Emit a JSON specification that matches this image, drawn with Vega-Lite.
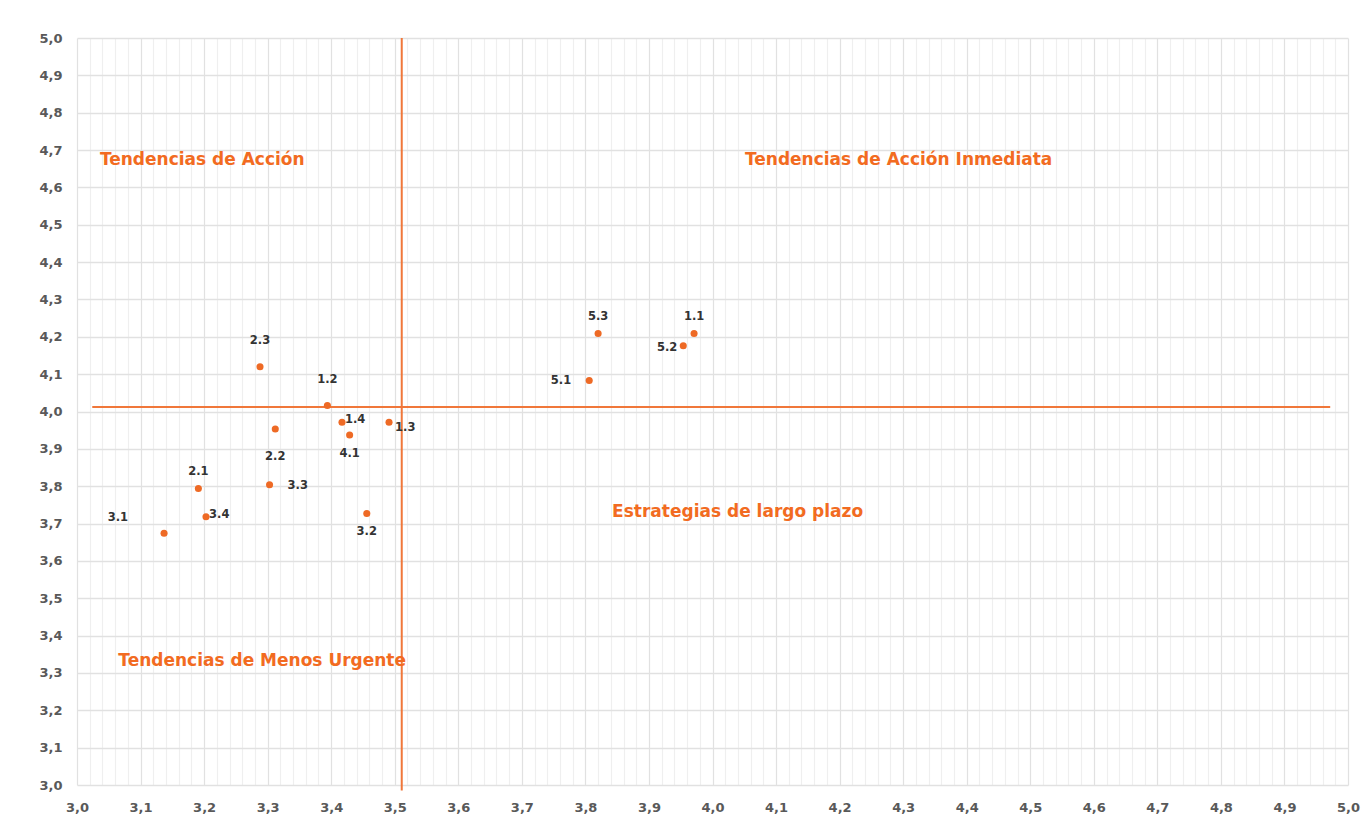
{
  "$schema": "https://vega.github.io/schema/vega-lite/v6.json",
  "width": 1271,
  "height": 747,
  "autosize": {"type": "none"},
  "padding": {"left": 77, "top": 38, "right": 23, "bottom": 49},
  "background": "white",
  "config": {
    "view": {"stroke": null},
    "font": "DejaVu Sans"
  },
  "datasets": {
    "points": [
      {"label": "1.1", "x": 3.971, "y": 4.209},
      {"label": "1.2", "x": 3.394, "y": 4.016},
      {"label": "1.3", "x": 3.491, "y": 3.971},
      {"label": "1.4", "x": 3.417, "y": 3.971},
      {"label": "2.1", "x": 3.191, "y": 3.794},
      {"label": "2.2", "x": 3.312, "y": 3.953},
      {"label": "2.3", "x": 3.288, "y": 4.120},
      {"label": "3.1", "x": 3.137, "y": 3.674},
      {"label": "3.2", "x": 3.456, "y": 3.727},
      {"label": "3.3", "x": 3.303, "y": 3.804},
      {"label": "3.4", "x": 3.203, "y": 3.718},
      {"label": "4.1", "x": 3.429, "y": 3.937},
      {"label": "5.1", "x": 3.806, "y": 4.083},
      {"label": "5.2", "x": 3.954, "y": 4.176},
      {"label": "5.3", "x": 3.820, "y": 4.209}
    ],
    "quadrants": [
      {"text": "Tendencias de Acción", "x": 3.036, "y": 4.673},
      {"text": "Tendencias de Acción Inmediata", "x": 4.051, "y": 4.673},
      {"text": "Estrategias de largo plazo", "x": 3.842, "y": 3.731},
      {"text": "Tendencias de Menos Urgente", "x": 3.065, "y": 3.332}
    ],
    "vline": [{"x": 3.511, "y": 5.0, "y2": 2.985}],
    "hline": [{"x": 3.024, "x2": 4.972, "y": 4.012}]
  },
  "layer": [
    {
      "data": {"name": "vline"},
      "mark": {"type": "rule", "color": "#F0773A", "strokeWidth": 2, "clip": false},
      "encoding": {
        "x": {
          "field": "x", "type": "quantitative",
          "scale": {"domain": [3.0, 5.0], "nice": false, "zero": false},
          "axis": {
            "title": null,
            "tickCount": 101,
            "values": [3.0,3.02,3.04,3.06,3.08,3.1,3.12,3.14,3.16,3.18,3.2,3.22,3.24,3.26,3.28,3.3,3.32,3.34,3.36,3.38,3.4,3.42,3.44,3.46,3.48,3.5,3.52,3.54,3.56,3.58,3.6,3.62,3.64,3.66,3.68,3.7,3.72,3.74,3.76,3.78,3.8,3.82,3.84,3.86,3.88,3.9,3.92,3.94,3.96,3.98,4.0,4.02,4.04,4.06,4.08,4.1,4.12,4.14,4.16,4.18,4.2,4.22,4.24,4.26,4.28,4.3,4.32,4.34,4.36,4.38,4.4,4.42,4.44,4.46,4.48,4.5,4.52,4.54,4.56,4.58,4.6,4.62,4.64,4.66,4.68,4.7,4.72,4.74,4.76,4.78,4.8,4.82,4.84,4.86,4.88,4.9,4.92,4.94,4.96,4.98,5.0],
            "labelExpr": "abs(datum.value*10 - round(datum.value*10)) < 0.001 ? replace(format(datum.value, '.1f'), '.', ',') : ''",
            "labelOverlap": false,
            "labelFlush": false,
            "labelFont": "DejaVu Sans",
            "labelFontWeight": "bold",
            "labelFontSize": 13,
            "labelColor": "#595959",
            "labelPadding": 16,
            "ticks": false,
            "domain": false,
            "grid": true,
            "gridColor": {"condition": {"test": "abs(datum.value*10 - round(datum.value*10)) < 0.001", "value": "#e1e1e1"}, "value": "#efefef"},
            "gridWidth": 1.2
          }
        },
        "y": {
          "field": "y", "type": "quantitative",
          "scale": {"domain": [3.0, 5.0], "nice": false, "zero": false},
          "axis": {
            "title": null,
            "tickCount": 21,
            "values": [3.0,3.1,3.2,3.3,3.4,3.5,3.6,3.7,3.8,3.9,4.0,4.1,4.2,4.3,4.4,4.5,4.6,4.7,4.8,4.9,5.0],
            "labelExpr": "replace(format(datum.value, '.1f'), '.', ',')",
            "labelOverlap": false,
            "labelFlush": false,
            "labelFont": "DejaVu Sans",
            "labelFontWeight": "bold",
            "labelFontSize": 13,
            "labelColor": "#595959",
            "labelPadding": 15,
            "ticks": false,
            "domain": false,
            "grid": true,
            "gridColor": "#e1e1e1",
            "gridWidth": 1.5
          }
        },
        "y2": {"field": "y2"}
      }
    },
    {
      "data": {"name": "hline"},
      "mark": {"type": "rule", "color": "#F0773A", "strokeWidth": 2},
      "encoding": {
        "x": {"field": "x", "type": "quantitative"},
        "x2": {"field": "x2"},
        "y": {"field": "y", "type": "quantitative"}
      }
    },
    {
      "data": {"name": "points"},
      "mark": {"type": "circle", "size": 50, "opacity": 1, "color": "#EE6A25"},
      "encoding": {
        "x": {"field": "x", "type": "quantitative"},
        "y": {"field": "y", "type": "quantitative"}
      }
    },
    {
      "data": {"name": "quadrants"},
      "mark": {"type": "text", "align": "left", "baseline": "middle", "font": "DejaVu Sans", "fontWeight": "bold", "fontSize": 17, "color": "#F26B21"},
      "encoding": {
        "x": {"field": "x", "type": "quantitative"},
        "y": {"field": "y", "type": "quantitative"},
        "text": {"field": "text"}
      }
    },
    {
      "data": {"name": "points"},
      "transform": [{"filter": {"field": "label", "oneOf": ["2.3", "1.2"]}}],
      "mark": {"type": "text", "align": "center", "baseline": "middle", "dy": -26, "fontWeight": "bold", "fontSize": 11.5, "color": "#333333"},
      "encoding": {"x": {"field": "x", "type": "quantitative"}, "y": {"field": "y", "type": "quantitative"}, "text": {"field": "label"}}
    },
    {
      "data": {"name": "points"},
      "transform": [{"filter": {"field": "label", "oneOf": ["5.3", "1.1", "2.1"]}}],
      "mark": {"type": "text", "align": "center", "baseline": "middle", "dy": -16, "fontWeight": "bold", "fontSize": 11.5, "color": "#333333"},
      "encoding": {"x": {"field": "x", "type": "quantitative"}, "y": {"field": "y", "type": "quantitative"}, "text": {"field": "label"}}
    },
    {
      "data": {"name": "points"},
      "transform": [{"filter": {"field": "label", "oneOf": ["1.4", "3.4"]}}],
      "mark": {"type": "text", "align": "left", "baseline": "middle", "dx": 3, "dy": -2, "fontWeight": "bold", "fontSize": 11.5, "color": "#333333"},
      "encoding": {"x": {"field": "x", "type": "quantitative"}, "y": {"field": "y", "type": "quantitative"}, "text": {"field": "label"}}
    },
    {
      "data": {"name": "points"},
      "transform": [{"filter": {"field": "label", "oneOf": ["3.3"]}}],
      "mark": {"type": "text", "align": "left", "baseline": "middle", "dx": 18, "dy": 1, "fontWeight": "bold", "fontSize": 11.5, "color": "#333333"},
      "encoding": {"x": {"field": "x", "type": "quantitative"}, "y": {"field": "y", "type": "quantitative"}, "text": {"field": "label"}}
    },
    {
      "data": {"name": "points"},
      "transform": [{"filter": {"field": "label", "oneOf": ["1.3"]}}],
      "mark": {"type": "text", "align": "left", "baseline": "middle", "dx": 6, "dy": 6, "fontWeight": "bold", "fontSize": 11.5, "color": "#333333"},
      "encoding": {"x": {"field": "x", "type": "quantitative"}, "y": {"field": "y", "type": "quantitative"}, "text": {"field": "label"}}
    },
    {
      "data": {"name": "points"},
      "transform": [{"filter": {"field": "label", "oneOf": ["2.2"]}}],
      "mark": {"type": "text", "align": "center", "baseline": "middle", "dy": 28, "fontWeight": "bold", "fontSize": 11.5, "color": "#333333"},
      "encoding": {"x": {"field": "x", "type": "quantitative"}, "y": {"field": "y", "type": "quantitative"}, "text": {"field": "label"}}
    },
    {
      "data": {"name": "points"},
      "transform": [{"filter": {"field": "label", "oneOf": ["4.1", "3.2"]}}],
      "mark": {"type": "text", "align": "center", "baseline": "middle", "dy": 19, "fontWeight": "bold", "fontSize": 11.5, "color": "#333333"},
      "encoding": {"x": {"field": "x", "type": "quantitative"}, "y": {"field": "y", "type": "quantitative"}, "text": {"field": "label"}}
    },
    {
      "data": {"name": "points"},
      "transform": [{"filter": {"field": "label", "oneOf": ["5.2"]}}],
      "mark": {"type": "text", "align": "right", "baseline": "middle", "dx": -6, "dy": 2, "fontWeight": "bold", "fontSize": 11.5, "color": "#333333"},
      "encoding": {"x": {"field": "x", "type": "quantitative"}, "y": {"field": "y", "type": "quantitative"}, "text": {"field": "label"}}
    },
    {
      "data": {"name": "points"},
      "transform": [{"filter": {"field": "label", "oneOf": ["5.1"]}}],
      "mark": {"type": "text", "align": "right", "baseline": "middle", "dx": -18, "dy": 1, "fontWeight": "bold", "fontSize": 11.5, "color": "#333333"},
      "encoding": {"x": {"field": "x", "type": "quantitative"}, "y": {"field": "y", "type": "quantitative"}, "text": {"field": "label"}}
    },
    {
      "data": {"name": "points"},
      "transform": [{"filter": {"field": "label", "oneOf": ["3.1"]}}],
      "mark": {"type": "text", "align": "right", "baseline": "middle", "dx": -36, "dy": -15, "fontWeight": "bold", "fontSize": 11.5, "color": "#333333"},
      "encoding": {"x": {"field": "x", "type": "quantitative"}, "y": {"field": "y", "type": "quantitative"}, "text": {"field": "label"}}
    }
  ]
}
